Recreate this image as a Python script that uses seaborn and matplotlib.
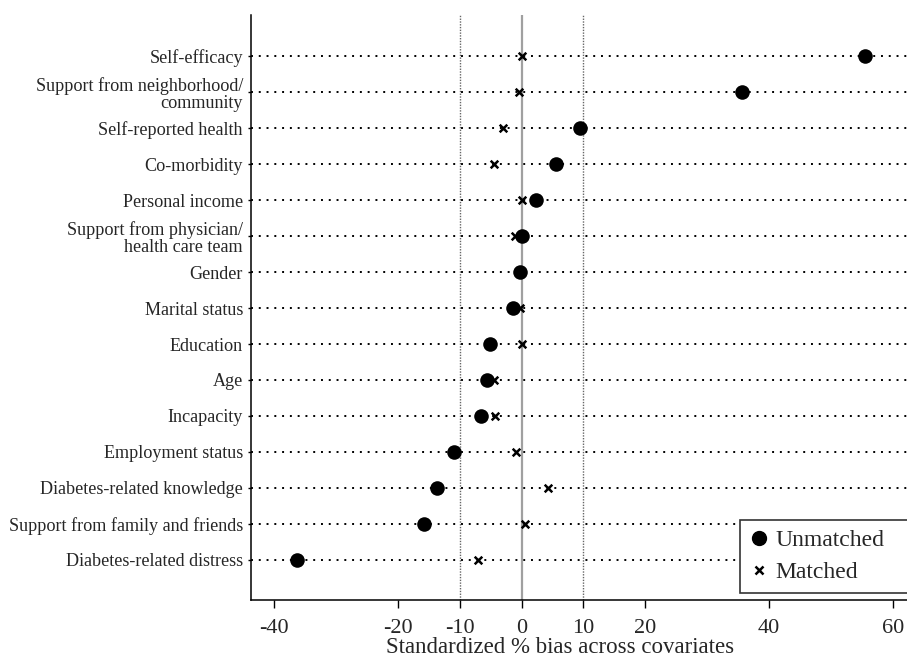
import numpy as np
import pandas as pd
import matplotlib
matplotlib.use("Agg")
import matplotlib.pyplot as plt
import seaborn as sns
from matplotlib.lines import Line2D

covariates = [
    "Self-efficacy",
    "Support from neighborhood/\ncommunity",
    "Self-reported health",
    "Co-morbidity",
    "Personal income",
    "Support from physician/\nhealth care team",
    "Gender",
    "Marital status",
    "Education",
    "Age",
    "Incapacity",
    "Employment status",
    "Diabetes-related knowledge",
    "Support from family and friends",
    "Diabetes-related distress",
]
unmatched = [55.5, 35.6, 9.4, 5.6, 2.3, 0.1, -0.2, -1.4, -5.1, -5.6, -6.5, -10.9, -13.7, -15.8, -36.3]
matched = [0.0, -0.4, -3.0, -4.4, 0.1, -1.1, -0.2, -0.2, 0.1, -4.5, -4.3, -0.9, 4.2, 0.5, -7.1]
x_ticks = [-40, -20, -10, 0, 10, 20, 40, 60]

sns.set_style("ticks")
plt.rcParams["font.family"] = ["Liberation Serif", "DejaVu Serif"]

pos = np.arange(len(covariates))
df = pd.DataFrame({"pos": pos, "unmatched": unmatched, "matched": matched})

fig = plt.figure(figsize=(9.07, 6.62), dpi=100)
ax = fig.add_axes([0.277, 0.094, 0.723, 0.883])

# reference lines
for p in pos:
    ax.axhline(p, color="black", lw=1.4, ls=(0, (1, 3)), zorder=1)
ax.axvline(-10, color="#666666", lw=1.0, ls=(0, (1, 1)), zorder=1)
ax.axvline(10, color="#666666", lw=1.0, ls=(0, (1, 1)), zorder=1)
ax.axvline(0, color="#a0a0a0", lw=1.6, zorder=1)

sns.scatterplot(data=df, x="unmatched", y="pos", marker="o", s=110, color="black",
                edgecolor="black", linewidth=0, ax=ax, zorder=3)
sns.scatterplot(data=df, x="matched", y="pos", marker="x", s=30, color="black",
                linewidth=1.8, ax=ax, zorder=4)

ax.set_xlim(-43.7, 62.3)
ax.set_ylim(len(covariates) - 1 + 1.11, -1.14)
ax.set_xticks(x_ticks)
ax.set_xticklabels([str(t) for t in x_ticks], fontsize=16)
ax.set_yticks(pos)
ax.set_yticklabels(covariates, fontsize=13.1, linespacing=1.05)
ax.tick_params(axis="x", length=6, width=1, pad=8, color="black")
ax.tick_params(axis="y", length=2, width=1, pad=4, color="black")
ax.set_xlabel("Standardized % bias across covariates", fontsize=16.5)
ax.xaxis.set_label_coords(0.471, -0.064)
ax.xaxis.label.set_va("top")
ax.set_ylabel("")
for s in ["top", "right"]:
    ax.spines[s].set_visible(False)
for s in ["left", "bottom"]:
    ax.spines[s].set_linewidth(1.1)
    ax.spines[s].set_color("black")

handles = [
    Line2D([], [], marker="o", color="black", ls="none", markersize=10),
    Line2D([], [], marker="x", color="black", ls="none", markersize=6, markeredgewidth=1.8),
]
# legend box runs past the right edge of the figure, as in the original
leg = ax.legend(handles, ["Unmatched", "Matched"], loc="lower left",
                bbox_to_anchor=(0.7454, 0.012, 0.29, 0.1), mode="expand",
                fontsize=17, frameon=True, fancybox=False,
                edgecolor="#333333", framealpha=1, borderpad=0.4, handletextpad=0.3,
                labelspacing=0.45, handlelength=0.8, borderaxespad=0)
leg.get_frame().set_linewidth(1.2)

fig.savefig("out.png", dpi=100)
